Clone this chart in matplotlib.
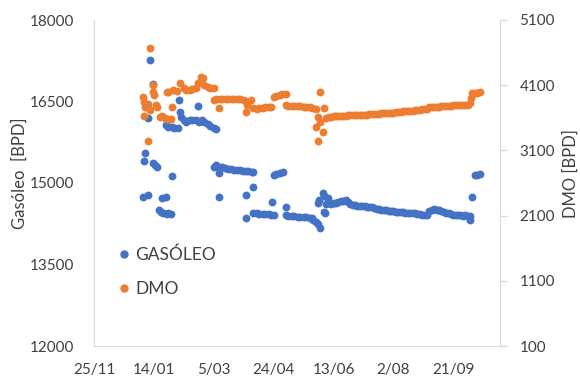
import matplotlib
matplotlib.use("Agg")
import matplotlib.pyplot as plt
from matplotlib.lines import Line2D

plt.rcParams['font.family'] = ['Lato', 'DejaVu Sans']

# days counted from 25/11
xtick_dias = [0, 50, 100, 150, 200, 250, 300]
xtick_labels = ["25/11", "14/01", "5/03", "24/04", "13/06", "2/08", "21/09"]

gas_dia = [41, 42, 43, 45, 45, 47, 49, 49, 51, 53, 54, 56, 57, 58, 60, 61, 62, 64, 65,
           60, 62, 65, 67, 70, 71, 72, 73, 75, 77, 80, 82, 85, 87, 88, 90, 92, 95, 97, 100, 102,
           100, 102, 104, 104, 107, 109, 112, 114, 117, 119, 122, 124, 127, 129, 132, 133,
           104, 127, 133, 127,
           133, 136, 138, 141, 143, 146, 148, 150,
           150, 152, 155, 158, 149, 160,
           160, 162, 165, 167, 170, 172, 175, 177, 180, 182, 183, 185, 187, 189,
           187, 188, 191, 192, 195, 192, 193,
           194, 196, 198, 200, 202, 204, 206, 208, 210, 212, 214, 216, 218, 220,
           222, 224, 226, 228, 230, 232, 234, 236, 238, 240, 242, 244, 246, 248,
           250, 252, 254, 256, 258, 260, 262, 264, 266, 268, 270, 272, 274, 276,
           278, 280, 282, 284, 286, 288, 290, 292, 294, 296, 298, 300, 302, 304,
           306, 308, 310, 312, 314,
           314, 316, 318, 320, 322]
gas_bpd = [14740, 15400, 15550, 14780, 16200, 17260, 16820, 15370, 15330, 15290, 14500, 14470, 14720, 14450, 14740, 14430, 14450, 14430, 15130,
           16070, 16030, 16030, 16010, 16010, 16530, 16310, 16210, 16160, 16120, 16160, 16160, 16160, 16420, 16120, 16160, 16120, 16090, 16050, 16010, 15990,
           15290, 15330, 15180, 15290, 15290, 15280, 15260, 15260, 15240, 15240, 15240, 15220, 15220, 15220, 15200, 15200,
           14740, 14780, 14930, 14360,
           14450, 14450, 14430, 14430, 14430, 14430, 14410, 14410,
           15150, 15170, 15180, 15200, 14650, 14560,
           14410, 14390, 14390, 14390, 14370, 14370, 14370, 14370, 14360, 14360, 14320, 14280, 14250, 14170,
           14630, 14690, 14820, 14760, 14720, 14470, 14450,
           14610, 14630, 14620, 14640, 14630, 14650, 14660, 14670, 14680, 14650, 14610, 14600, 14590, 14580,
           14580, 14570, 14570, 14560, 14560, 14550, 14540, 14530, 14520, 14510, 14510, 14500, 14490, 14490,
           14480, 14470, 14470, 14460, 14460, 14450, 14450, 14450, 14440, 14440, 14430, 14430, 14420, 14420,
           14410, 14490, 14510, 14520, 14510, 14500, 14490, 14470, 14450, 14440, 14430, 14420, 14420, 14410,
           14410, 14400, 14410, 14400, 14390,
           14320, 14740, 15150, 15150, 15160]

dmo_dia = [41, 42, 42, 43, 45, 45, 47, 47, 49, 49, 50, 52, 53, 55, 57, 59, 61, 64, 65,
           61, 62, 66, 69, 72, 75, 77, 80, 82, 85, 87, 89, 91, 92, 95, 97, 100,
           100, 102, 104, 105, 107, 110, 112, 115, 117, 120, 122, 125, 127, 128, 131,
           133, 136, 138, 141, 143, 146, 148, 150, 152, 155, 157, 160,
           160, 162, 165, 167, 170, 172, 175, 177, 180, 182, 185,
           189, 192, 187, 189, 185, 191, 187,
           194, 196, 198, 200, 202, 204, 206, 208, 210, 212, 214, 216, 218, 220,
           222, 224, 226, 228, 230, 232, 234, 236, 238, 240, 242, 244, 246, 248,
           250, 252, 254, 256, 258, 260, 262, 264, 266, 268, 270, 272, 274, 276,
           278, 280, 282, 284, 286, 288, 290, 292, 294, 296, 298, 300, 302, 304,
           306, 308, 310, 312, 314,
           315, 316, 318, 320, 322]
dmo_bpd = [3920, 3630, 3840, 3770, 3250, 3810, 4670, 3720, 4100, 4000, 3950, 3800, 3770, 3610, 3630, 3600, 3580, 3580, 3770,
           4000, 4000, 4030, 4010, 4130, 4060, 4030, 4030, 4040, 4060, 4130, 4230, 4210, 4100, 4070, 4060, 4060,
           3870, 3890, 3750, 3890, 3890, 3890, 3890, 3890, 3890, 3890, 3890, 3870, 3690, 3800, 3870,
           3750, 3740, 3750, 3750, 3770, 3770, 3770, 3920, 3940, 3950, 3970, 3970,
           3800, 3780, 3780, 3780, 3780, 3780, 3770, 3770, 3770, 3750, 3740,
           4000, 3750, 3610, 3540, 3460, 3380, 3250,
           3600, 3610, 3610, 3620, 3620, 3620, 3630, 3630, 3630, 3640, 3640, 3640, 3640, 3640,
           3650, 3650, 3650, 3650, 3660, 3660, 3660, 3660, 3660, 3670, 3670, 3670, 3680, 3680,
           3680, 3690, 3690, 3690, 3700, 3700, 3700, 3710, 3710, 3720, 3720, 3720, 3730, 3730,
           3740, 3760, 3770, 3770, 3770, 3770, 3780, 3780, 3780, 3780, 3780, 3790, 3790, 3790,
           3790, 3800, 3800, 3800, 3830,
           3900, 3980, 3980, 3980, 3990]

azul = "#4472C4"
naranja = "#ED7D31"
gris = "#D9D9D9"
texto = "#404040"

fig = plt.figure(figsize=(5.8, 3.77), dpi=100)
ax = fig.add_axes([94 / 580, 31 / 377, 406 / 580, 326 / 377])
ax2 = ax.twinx()

ax.scatter(gas_dia, gas_bpd, s=32, color=azul, linewidths=0, zorder=3)
ax2.scatter(dmo_dia, dmo_bpd, s=32, color=naranja, linewidths=0, zorder=3)

ax.set_xlim(0, 339)
ax.set_ylim(12000, 18000)
ax2.set_ylim(100, 5100)
ax.set_xticks(xtick_dias)
ax.set_xticklabels(xtick_labels)
ax.set_yticks([12000, 13500, 15000, 16500, 18000])
ax2.set_yticks([100, 1100, 2100, 3100, 4100, 5100])

for a in (ax, ax2):
    for side in a.spines:
        a.spines[side].set_color(gris)
    a.spines['top'].set_visible(False)
ax.spines['right'].set_visible(False)
ax2.spines['left'].set_visible(False)
ax2.spines['bottom'].set_visible(False)

ax.tick_params(axis='y', length=0, pad=14, labelsize=11, labelcolor=texto)
ax.tick_params(axis='x', length=0, pad=12, labelsize=11, labelcolor=texto)
ax2.tick_params(axis='y', length=5, width=1, color=gris, pad=9, labelsize=11, labelcolor=texto)

ax.set_ylabel("Gasóleo  [BPD]", fontsize=12, color=texto)
ax.yaxis.set_label_coords(-0.163, 0.53)
ax2.set_ylabel("DMO [BPD]", fontsize=12, color=texto)
ax2.yaxis.set_label_coords(1.153, 0.53)

handles = [Line2D([], [], marker='o', linestyle='none', color=azul, markersize=5, label="GASÓLEO"),
           Line2D([], [], marker='o', linestyle='none', color=naranja, markersize=5, label="DMO")]
ax.legend(handles=handles, loc='upper left', bbox_to_anchor=(0.04, 0.332), frameon=False,
          fontsize=12.5, handlelength=0.6, handletextpad=0.35, labelspacing=1.05, borderpad=0,
          labelcolor=texto)

fig.savefig("out.png", dpi=100)
